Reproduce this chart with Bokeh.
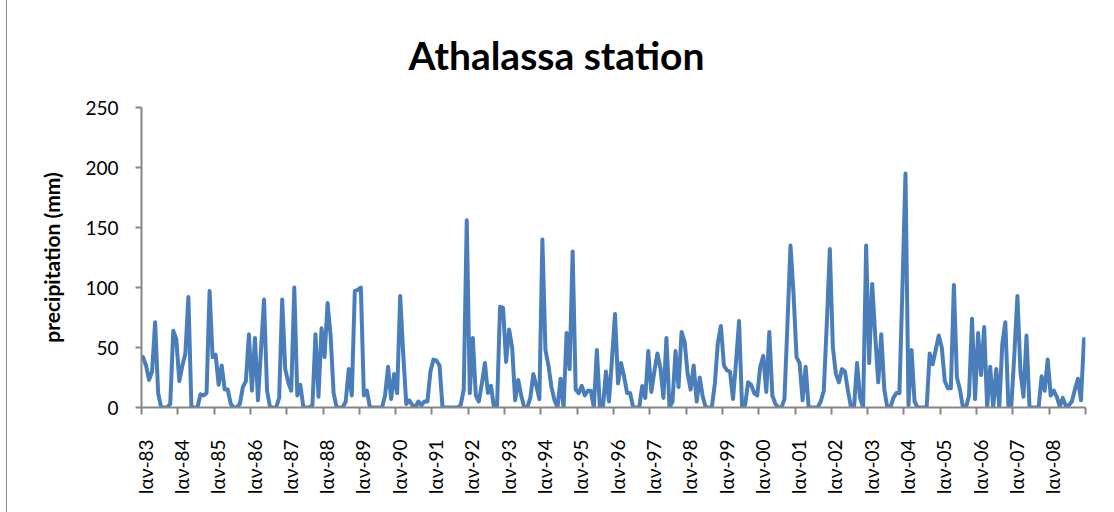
import math

from bokeh.embed import file_html
from bokeh.models import FixedTicker, Range1d
from bokeh.plotting import figure
from bokeh.resources import INLINE

# Monthly precipitation (mm) at Athalassa, January 1983 - December 2008
rain_1983 = [42, 35, 23, 30, 71, 12, 0, 0, 0, 3, 64, 57]
rain_1984 = [22, 35, 45, 92, 0, 0, 0, 11, 10, 12, 97, 42]
rain_1985 = [44, 19, 35, 15, 15, 3, 0, 0, 3, 17, 22, 61]
rain_1986 = [14, 58, 6, 48, 90, 14, 0, 0, 0, 8, 90, 32]
rain_1987 = [21, 14, 100, 10, 19, 0, 0, 0, 2, 61, 9, 66]
rain_1988 = [42, 87, 60, 12, 0, 0, 0, 5, 32, 10, 97, 98]
rain_1989 = [100, 10, 14, 0, 0, 0, 0, 0, 10, 34, 7, 28]
rain_1990 = [12, 93, 45, 3, 6, 2, 0, 5, 2, 5, 5, 30]
rain_1991 = [40, 39, 35, 0, 0, 0, 0, 0, 0, 2, 15, 156]
rain_1992 = [12, 58, 10, 5, 20, 37, 12, 18, 0, 0, 84, 83]
rain_1993 = [38, 65, 50, 6, 23, 10, 0, 0, 8, 28, 18, 7]
rain_1994 = [140, 48, 35, 17, 6, 0, 24, 0, 62, 32, 130, 15]
rain_1995 = [12, 18, 10, 14, 14, 0, 48, 0, 0, 30, 5, 40]
rain_1996 = [78, 20, 37, 26, 12, 12, 0, 0, 0, 18, 8, 47]
rain_1997 = [13, 30, 45, 33, 8, 58, 0, 5, 47, 17, 63, 55]
rain_1998 = [28, 15, 35, 5, 25, 9, 0, 0, 0, 20, 54, 68]
rain_1999 = [35, 31, 30, 7, 38, 72, 0, 2, 21, 19, 12, 10]
rain_2000 = [34, 43, 13, 63, 10, 3, 0, 0, 7, 70, 135, 95]
rain_2001 = [42, 37, 6, 34, 0, 0, 0, 0, 5, 14, 70, 132]
rain_2002 = [50, 28, 21, 32, 30, 14, 0, 0, 37, 8, 0, 135]
rain_2003 = [37, 103, 60, 21, 61, 15, 0, 0, 8, 12, 12, 100]
rain_2004 = [195, 2, 48, 5, 0, 0, 0, 0, 45, 36, 48, 60]
rain_2005 = [50, 22, 16, 16, 102, 25, 15, 0, 0, 10, 74, 7]
rain_2006 = [62, 27, 67, 0, 34, 0, 32, 0, 53, 71, 2, 2]
rain_2007 = [45, 93, 30, 9, 60, 0, 0, 0, 0, 26, 14, 40]
rain_2008 = [10, 14, 9, 1, 8, 1, 2, 5, 15, 24, 6, 57]

yearly = [
    rain_1983, rain_1984, rain_1985, rain_1986, rain_1987, rain_1988, rain_1989,
    rain_1990, rain_1991, rain_1992, rain_1993, rain_1994, rain_1995, rain_1996,
    rain_1997, rain_1998, rain_1999, rain_2000, rain_2001, rain_2002, rain_2003,
    rain_2004, rain_2005, rain_2006, rain_2007, rain_2008,
]
years = list(range(1983, 2009))
year_labels = ["Ιαν-%02d" % (y % 100) for y in years]
y_ticks = [0, 50, 100, 150, 200, 250]

precip = [v for year in yearly for v in year]
n_months = len(precip)
month_pos = [i + 0.5 for i in range(n_months)]  # each month sits mid-category

FONT = "Lato"
AXIS_COLOR = "#868686"
LABEL_SHIFT = 1.2  # year labels sit a little right of the year boundary

p = figure(
    width=1107, height=512,
    output_backend="svg", toolbar_location=None,
    x_range=Range1d(0, n_months), y_range=Range1d(0, 250),
    min_border_left=134, min_border_right=29,
    min_border_top=107, min_border_bottom=105,
)
# thin chart-area border down the left edge
p.styles = {"margin-left": "6px", "border-left": "1px solid #8c8c8c"}
p.background_fill_color = "white"
p.border_fill_color = "white"
p.outline_line_color = None
p.grid.visible = False

p.line(month_pos, precip, line_color="#4a7ebb", line_width=4,
       line_join="round", line_cap="round")

# Title
p.title.text = "Athalassa station"
p.title.text_font = FONT
p.title.text_font_style = "bold"
p.title.text_font_size = "39px"
p.title.text_color = "black"
p.title.align = "left"
p.title.offset = 267
p.title.standoff = 59

# Value axis
yax = p.yaxis[0]
yax.ticker = FixedTicker(ticks=y_ticks)
yax.axis_line_color = AXIS_COLOR
yax.axis_line_width = 2
yax.major_tick_line_color = AXIS_COLOR
yax.major_tick_line_width = 2
yax.major_tick_out = 6
yax.major_tick_in = 0
yax.minor_tick_line_color = None
yax.major_label_text_font = FONT
yax.major_label_text_font_size = "19px"
yax.major_label_text_color = "black"
yax.major_label_standoff = 17
yax.axis_label = "precipitation (mm)"
yax.axis_label_text_font = FONT
yax.axis_label_text_font_style = "bold"
yax.axis_label_text_font_size = "21px"
yax.axis_label_text_color = "black"
yax.axis_label_standoff = 18

# Time axis: year labels as major ticks (unmarked), year boundaries as tick marks
p.extra_x_ranges["year_labels"] = Range1d(-LABEL_SHIFT, n_months - LABEL_SHIFT)
label_ticks = list(range(0, n_months, 12))
boundary_ticks = [b - LABEL_SHIFT for b in range(0, n_months + 1, 12)]

xax = p.xaxis[0]
xax.x_range_name = "year_labels"
xax.ticker = FixedTicker(ticks=label_ticks, minor_ticks=boundary_ticks)
xax.major_label_overrides = {t: lbl for t, lbl in zip(label_ticks, year_labels)}
xax.major_label_orientation = math.pi / 2
xax.major_label_text_font = FONT
xax.major_label_text_font_size = "19px"
xax.major_label_text_color = "black"
xax.major_label_standoff = 25
xax.axis_line_color = AXIS_COLOR
xax.axis_line_width = 2
xax.major_tick_line_color = None
xax.major_tick_out = 0
xax.major_tick_in = 0
xax.minor_tick_line_color = AXIS_COLOR
xax.minor_tick_line_width = 2
xax.minor_tick_out = 7
xax.minor_tick_in = 0

open("out.html", "w").write(file_html(p, INLINE))
